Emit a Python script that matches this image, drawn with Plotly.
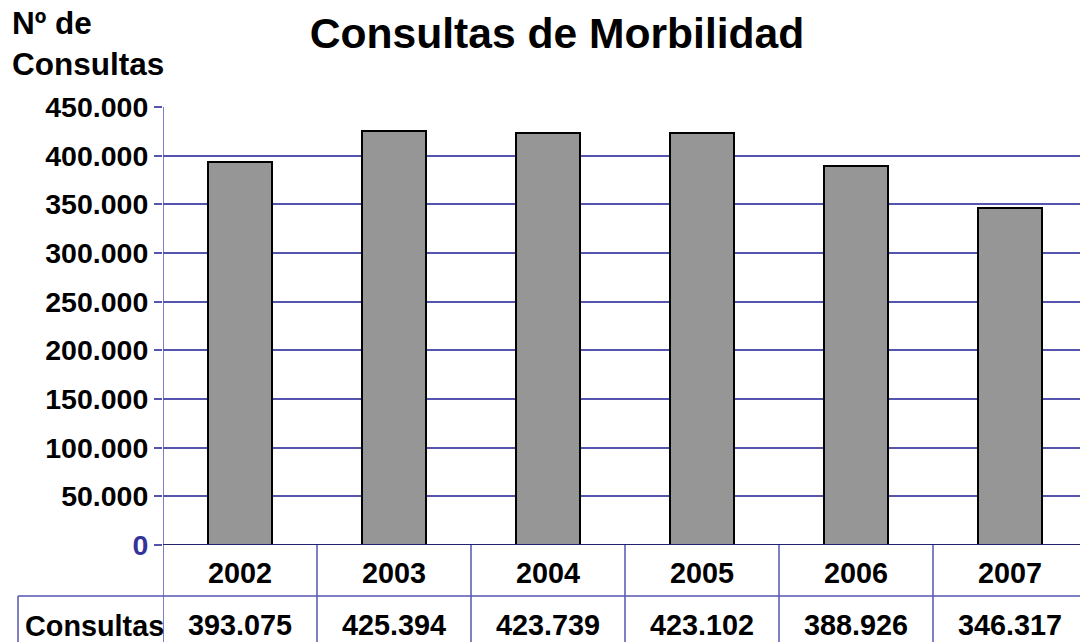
import plotly.graph_objects as go

years = ["2002", "2003", "2004", "2005", "2006", "2007"]
consultas = [393075, 425394, 423739, 423102, 388926, 346317]
y_tick_vals = [0, 50000, 100000, 150000, 200000, 250000, 300000, 350000, 400000, 450000]
y_tick_labels = ["<span style='color:#333399'>0</span>", "50.000", "100.000", "150.000", "200.000",
                 "250.000", "300.000", "350.000", "400.000", "450.000"]
row_label = "Consultas"

W, H = 1080, 642
L, T, B = 163, 107, 97
plot_w = W - L
plot_h = H - T - B
col_w = 154.0

def px_x(p):
    return (p - L) / plot_w

def px_y(p):
    return (H - B - p) / plot_h

FONT = "Liberation Sans, Arial, sans-serif"
GRID = "#5555b0"
GW = 1.5
TBL = 28.8

xs = list(range(len(years)))
fig = go.Figure(go.Bar(x=xs, y=consultas, width=0.42,
                       marker=dict(color="#969696", line=dict(color="#000000", width=2)),
                       hoverinfo="skip"))

shapes = []
shapes.append(dict(type="line", xref="paper", yref="paper", x0=px_x(18), x1=1.0,
                   y0=px_y(596), y1=px_y(596), line=dict(color=GRID, width=GW)))
for i in range(len(years)):
    shapes.append(dict(type="line", xref="x", yref="paper", x0=i - 0.5, x1=i - 0.5,
                       y0=px_y(H + 5), y1=0 if i > 0 else 1, line=dict(color=GRID, width=GW)))
shapes.append(dict(type="line", xref="paper", yref="paper", x0=px_x(18), x1=px_x(18),
                   y0=px_y(H + 5), y1=px_y(596), line=dict(color=GRID, width=GW)))
shapes.append(dict(type="line", xref="paper", yref="y", x0=0, x1=1, y0=0, y1=0,
                   line=dict(color="#22226e", width=2)))

annotations = []
for i, (yr, v) in enumerate(zip(years, consultas)):
    annotations.append(dict(x=i, xref="x", y=px_y(573), yref="paper", text=yr, showarrow=False,
                            xanchor="center", yanchor="middle",
                            font=dict(family=FONT, size=TBL, color="black", weight="bold")))
    annotations.append(dict(x=i, xref="x", y=px_y(625), yref="paper",
                            text=f"{v:,}".replace(",", "."), showarrow=False,
                            xanchor="center", yanchor="middle",
                            font=dict(family=FONT, size=TBL, color="black", weight="bold")))
annotations.append(dict(x=px_x(23), xref="paper", y=px_y(626), yref="paper", text=row_label,
                        showarrow=False, xanchor="left", yanchor="middle",
                        font=dict(family=FONT, size=TBL, color="black", weight="bold")))
annotations.append(dict(x=px_x(10), xref="paper", y=px_y(3), yref="paper", text="Nº de<br>Consultas",
                        showarrow=False, xanchor="left", yanchor="top", align="left",
                        font=dict(family=FONT, size=31.5, color="black", weight="bold")))

fig.update_layout(
    width=W, height=H,
    margin=dict(l=L, r=0, t=T, b=B),
    paper_bgcolor="white", plot_bgcolor="white",
    title=dict(text="Consultas de Morbilidad", x=557 / W, xanchor="center", xref="container",
               y=1 - 33 / H, yanchor="middle", yref="container",
               font=dict(family=FONT, size=42.6, color="black", weight="bold")),
    xaxis=dict(range=[-0.5, -0.5 + plot_w / col_w], showticklabels=False, showgrid=False,
               zeroline=False, showline=False, ticks=""),
    yaxis=dict(range=[0, 450000], tickvals=y_tick_vals, ticktext=y_tick_labels,
               showgrid=True, gridcolor=GRID, gridwidth=GW, zeroline=False,
               showline=False, ticks="outside", ticklen=8, tickcolor=GRID, tickwidth=GW,
               tickfont=dict(family=FONT, size=28.5, color="black", weight="bold")),
    shapes=shapes, annotations=annotations, showlegend=False, bargap=0,
)

fig.write_html("out.html", config={"displayModeBar": False},
               post_script="document.body.style.margin='0';document.body.style.padding='0';document.body.style.overflow='hidden';")
